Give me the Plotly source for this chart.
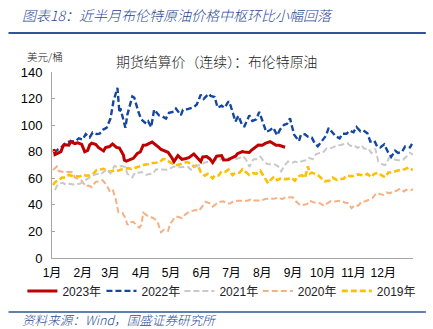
import pandas as pd
import plotly.graph_objects as go

# Brent front-month settlement (USD/bbl), by month-day of each year
dates_2023 = ["01-03", "01-04", "01-06", "01-10", "01-12", "01-13", "01-18", "01-20", "01-24", "01-27",
              "01-31", "02-03", "02-06", "02-08", "02-10", "02-14", "02-17", "02-22", "02-24", "02-28",
              "03-03", "03-07", "03-10", "03-14", "03-15", "03-17", "03-20", "03-24", "03-28", "03-31",
              "04-03", "04-06", "04-12", "04-14", "04-19", "04-21", "04-25", "04-28", "05-02", "05-04",
              "05-08", "05-12", "05-16", "05-19", "05-24", "05-26", "05-31", "06-02", "06-06", "06-09",
              "06-12", "06-16", "06-21", "06-23", "06-28", "06-30", "07-05", "07-07", "07-12", "07-14",
              "07-19", "07-21", "07-25", "07-28", "08-01", "08-04", "08-09", "08-11", "08-15", "08-18",
              "08-22", "08-24"]
brent_2023 = [82.10, 77.84, 78.57, 80.10, 84.03, 85.28, 84.98, 87.63, 86.13, 86.66,
              85.46, 79.94, 80.99, 85.09, 86.39, 85.58, 83.00, 80.60, 83.16, 83.89,
              85.83, 83.29, 82.78, 77.45, 73.69, 72.97, 73.79, 74.99, 78.65, 79.77,
              84.93, 85.12, 87.33, 86.31, 83.12, 81.66, 80.77, 79.54, 75.32, 72.50,
              77.01, 74.17, 74.91, 75.58, 78.36, 76.95, 72.66, 76.13, 76.29, 74.79,
              71.84, 76.61, 77.12, 73.85, 74.03, 74.90, 76.65, 78.47, 80.11, 79.87,
              79.46, 81.07, 83.64, 84.99, 84.91, 86.24, 87.55, 86.81, 84.89, 84.80,
              84.03, 83.36]

dates_2022 = ["01-03", "01-05", "01-07", "01-11", "01-14", "01-18", "01-21", "01-25", "01-28", "02-01",
              "02-04", "02-08", "02-11", "02-15", "02-18", "02-22", "02-25", "03-01", "03-04", "03-08",
              "03-10", "03-11", "03-16", "03-18", "03-23", "03-25", "03-29", "04-01", "04-06", "04-08",
              "04-11", "04-14", "04-19", "04-22", "04-26", "04-29", "05-04", "05-06", "05-11", "05-13",
              "05-17", "05-20", "05-24", "05-27", "05-31", "06-03", "06-08", "06-10", "06-14", "06-17",
              "06-21", "06-24", "06-28", "06-30", "07-05", "07-08", "07-12", "07-14", "07-19", "07-22",
              "07-26", "07-29", "08-02", "08-05", "08-09", "08-12", "08-16", "08-19", "08-23", "08-26",
              "08-29", "09-02", "09-07", "09-09", "09-13", "09-16", "09-20", "09-23", "09-26", "09-30",
              "10-04", "10-07", "10-11", "10-14", "10-18", "10-21", "10-25", "10-28", "11-01", "11-04",
              "11-08", "11-11", "11-15", "11-18", "11-22", "11-25", "11-28", "12-02", "12-06", "12-09",
              "12-13", "12-16", "12-20", "12-23", "12-28", "12-30"]
brent_2022 = [78.98, 80.80, 81.75, 83.72, 86.06, 87.51, 87.89, 88.20, 90.03, 89.16,
              93.27, 90.78, 94.44, 93.28, 93.54, 96.84, 97.93, 104.97, 118.11, 127.98,
              109.33, 112.67, 98.02, 107.93, 121.60, 120.65, 110.23, 104.39, 101.07, 102.78,
              98.48, 111.70, 107.25, 106.65, 104.99, 109.34, 110.14, 112.39, 107.51, 111.55,
              111.93, 112.55, 113.56, 115.56, 122.84, 119.72, 123.58, 122.01, 121.17, 113.12,
              114.65, 113.12, 117.98, 114.81, 102.77, 107.02, 99.49, 99.10, 107.35, 103.20,
              104.40, 110.01, 100.54, 94.92, 96.31, 98.15, 92.34, 96.72, 100.22, 100.99,
              105.09, 93.02, 88.00, 92.84, 93.17, 91.35, 90.62, 86.15, 84.06, 87.96,
              91.80, 97.92, 94.29, 91.63, 90.03, 93.50, 93.52, 95.77, 94.65, 98.57,
              95.36, 95.99, 93.86, 87.62, 88.36, 83.63, 83.19, 85.57, 79.35, 76.10,
              80.68, 79.04, 79.99, 83.92, 83.26, 85.91]

dates_2021 = ["01-04", "01-06", "01-08", "01-12", "01-15", "01-19", "01-22", "01-26", "01-29", "02-02",
              "02-05", "02-09", "02-12", "02-16", "02-19", "02-23", "02-25", "03-01", "03-05", "03-08",
              "03-12", "03-16", "03-18", "03-23", "03-26", "03-30", "04-01", "04-06", "04-09", "04-13",
              "04-16", "04-20", "04-23", "04-27", "04-30", "05-04", "05-07", "05-11", "05-14", "05-18",
              "05-21", "05-25", "05-28", "06-01", "06-04", "06-08", "06-11", "06-15", "06-18", "06-22",
              "06-25", "06-29", "07-02", "07-06", "07-09", "07-13", "07-16", "07-19", "07-23", "07-27",
              "07-30", "08-03", "08-06", "08-10", "08-13", "08-17", "08-20", "08-24", "08-27", "08-31",
              "09-03", "09-07", "09-10", "09-14", "09-17", "09-21", "09-24", "09-28", "10-01", "10-05",
              "10-08", "10-12", "10-15", "10-19", "10-22", "10-26", "10-29", "11-02", "11-05", "11-09",
              "11-12", "11-16", "11-19", "11-23", "11-26", "11-30", "12-03", "12-07", "12-10", "12-14",
              "12-17", "12-21", "12-24", "12-28", "12-31"]
brent_2021 = [51.09, 54.30, 55.99, 56.58, 55.10, 55.90, 55.41, 55.91, 55.88, 57.46,
              59.34, 61.09, 62.43, 63.35, 62.91, 65.37, 66.88, 63.69, 69.36, 68.24,
              69.22, 68.39, 63.28, 60.79, 64.57, 64.14, 64.86, 62.74, 62.95, 63.67,
              66.77, 66.57, 66.11, 66.42, 67.25, 68.88, 68.28, 68.55, 68.71, 68.71,
              66.44, 68.65, 69.63, 70.25, 71.89, 72.22, 72.69, 73.99, 73.51, 74.81,
              76.18, 74.76, 76.17, 74.53, 75.55, 76.49, 73.59, 68.62, 74.10, 74.48,
              76.33, 72.41, 70.70, 70.63, 70.59, 69.03, 65.18, 70.05, 72.70, 71.63,
              72.61, 71.69, 72.92, 73.60, 75.34, 74.36, 78.09, 79.09, 79.28, 82.56,
              82.39, 83.42, 84.86, 85.08, 85.53, 86.40, 84.38, 84.72, 82.74, 84.78,
              82.17, 82.43, 78.89, 82.31, 72.72, 70.57, 69.88, 75.44, 75.15, 73.70,
              73.52, 73.98, 76.14, 79.23, 77.78]

dates_2020 = ["01-02", "01-06", "01-08", "01-10", "01-14", "01-17", "01-21", "01-24", "01-28", "01-31",
              "02-04", "02-07", "02-10", "02-14", "02-18", "02-21", "02-25", "02-28", "03-03", "03-06",
              "03-09", "03-13", "03-16", "03-18", "03-20", "03-24", "03-27", "03-30", "04-01", "04-03",
              "04-07", "04-09", "04-14", "04-17", "04-21", "04-24", "04-28", "04-30", "05-05", "05-08",
              "05-12", "05-15", "05-19", "05-22", "05-26", "05-29", "06-02", "06-05", "06-09", "06-12",
              "06-16", "06-19", "06-23", "06-26", "06-30", "07-03", "07-07", "07-10", "07-14", "07-17",
              "07-21", "07-24", "07-28", "07-31", "08-04", "08-07", "08-11", "08-14", "08-18", "08-21",
              "08-25", "08-28", "09-01", "09-04", "09-08", "09-11", "09-15", "09-18", "09-22", "09-25",
              "09-29", "10-02", "10-06", "10-09", "10-13", "10-16", "10-20", "10-23", "10-27", "10-30",
              "11-02", "11-06", "11-09", "11-13", "11-17", "11-20", "11-24", "11-27", "12-01", "12-04",
              "12-08", "12-11", "12-15", "12-18", "12-22", "12-24", "12-29", "12-31"]
brent_2020 = [66.25, 68.91, 65.44, 64.98, 64.49, 64.85, 64.59, 60.69, 59.51, 58.16,
              53.96, 54.47, 53.27, 57.32, 57.75, 58.50, 54.95, 50.52, 51.86, 45.27,
              34.36, 33.85, 30.05, 24.88, 26.98, 27.15, 24.93, 22.76, 24.74, 34.11,
              31.87, 31.48, 29.60, 28.08, 19.33, 21.44, 20.46, 25.27, 30.97, 30.97,
              29.98, 32.50, 34.65, 35.13, 36.17, 35.33, 39.57, 42.30, 41.18, 38.73,
              40.96, 42.19, 42.63, 41.02, 41.15, 42.80, 43.08, 43.24, 42.90, 43.14,
              44.32, 43.34, 43.22, 43.30, 44.43, 44.40, 44.50, 44.80, 45.46, 44.35,
              45.86, 45.81, 45.58, 42.66, 39.78, 39.83, 40.53, 43.15, 41.72, 41.92,
              40.91, 39.27, 41.29, 42.85, 42.45, 42.93, 43.16, 41.77, 41.20, 37.46,
              39.71, 39.45, 42.40, 42.78, 43.75, 44.96, 48.86, 48.18, 47.42, 49.25,
              48.84, 49.97, 50.76, 52.26, 50.08, 51.29, 51.09, 51.80]

dates_2019 = ["01-02", "01-04", "01-08", "01-11", "01-15", "01-18", "01-22", "01-25", "01-29", "02-01",
              "02-05", "02-08", "02-12", "02-15", "02-19", "02-22", "02-26", "03-01", "03-05", "03-08",
              "03-12", "03-15", "03-19", "03-22", "03-26", "03-29", "04-02", "04-05", "04-09", "04-12",
              "04-16", "04-19", "04-23", "04-25", "04-30", "05-03", "05-07", "05-10", "05-14", "05-17",
              "05-21", "05-24", "05-28", "05-31", "06-04", "06-07", "06-12", "06-14", "06-18", "06-21",
              "06-25", "06-28", "07-02", "07-05", "07-09", "07-12", "07-16", "07-19", "07-23", "07-26",
              "07-30", "08-02", "08-07", "08-09", "08-13", "08-16", "08-20", "08-23", "08-27", "08-30",
              "09-03", "09-06", "09-10", "09-13", "09-16", "09-18", "09-20", "09-24", "09-27", "10-01",
              "10-03", "10-08", "10-11", "10-15", "10-18", "10-22", "10-25", "10-29", "11-01", "11-05",
              "11-08", "11-12", "11-15", "11-19", "11-22", "11-26", "11-29", "12-03", "12-06", "12-10",
              "12-13", "12-17", "12-20", "12-24", "12-27", "12-31"]
brent_2019 = [54.91, 57.06, 58.72, 60.48, 60.64, 62.70, 61.50, 61.64, 61.32, 62.75,
              61.98, 62.10, 63.69, 66.25, 66.45, 67.12, 65.21, 65.07, 65.86, 65.74,
              66.67, 67.16, 67.61, 67.03, 67.97, 68.39, 69.37, 70.34, 70.61, 71.55,
              71.72, 71.97, 74.51, 74.35, 72.06, 70.85, 69.88, 70.62, 71.24, 72.21,
              71.18, 68.69, 70.11, 64.49, 61.97, 63.29, 59.97, 62.01, 62.14, 65.20,
              65.05, 66.55, 62.40, 64.23, 64.16, 66.72, 64.35, 62.47, 63.83, 63.46,
              65.72, 61.89, 56.23, 58.53, 61.30, 58.64, 60.03, 59.34, 59.51, 60.43,
              58.26, 61.54, 62.38, 60.22, 69.02, 63.60, 64.28, 63.10, 61.91, 58.89,
              57.71, 58.24, 60.51, 58.74, 59.42, 59.70, 62.02, 61.59, 61.69, 62.96,
              62.51, 62.06, 63.30, 60.91, 63.39, 64.27, 62.43, 60.82, 64.39, 64.34,
              65.22, 66.10, 66.14, 67.20, 68.16, 66.00]

month_labels = ["1月", "2月", "3月", "4月", "5月", "6月", "7月", "8月", "9月", "10月", "11月", "12月"]

BASE_YEAR = "2023"  # every year is laid on a common Jan–Dec axis


def on_axis(md_list):
    return pd.to_datetime([f"{BASE_YEAR}-{md}" for md in md_list])


LBL = "Liberation Sans, Arial, Noto Sans CJK SC, sans-serif"
CJK = "Noto Sans CJK SC, sans-serif"
NAVY = "#2A4A95"

series = [
    # (name, dates, values, colour, width, dash, legend id, legend x)
    ("2019年", dates_2019, brent_2019, "#FFC000", 2.6, "6px,3px", "legend5", 0.789),
    ("2020年", dates_2020, brent_2020, "#F4B183", 2.0, "6px,3px", "legend4", 0.570),
    ("2021年", dates_2021, brent_2021, "#C9C9C9", 2.0, "6px,3px", "legend3", 0.353),
    ("2022年", dates_2022, brent_2022, "#1447A0", 2.4, "6px,3px", "legend2", 0.137),
    ("2023年", dates_2023, brent_2023, "#C00000", 3.0, "solid", "legend", -0.082),
]

fig = go.Figure()
legend_layout = {}
for name, d, v, col, w, dash, lg, lx in series:
    fig.add_trace(go.Scatter(
        x=on_axis(d), y=v, name=name, mode="lines",
        line=dict(color=col, width=w, dash=dash),
        legend=lg, showlegend=True,
    ))
    legend_layout[lg] = dict(
        orientation="h", x=lx, xanchor="left", y=-0.177, yanchor="middle",
        font=dict(family=LBL, size=12, color="#222222"),
        itemwidth=30, bgcolor="rgba(0,0,0,0)",
    )

month_starts = pd.date_range(f"{BASE_YEAR}-01-01", periods=12, freq="MS")

fig.update_layout(
    width=433, height=329,
    margin=dict(l=52, r=16, t=72, b=71),
    paper_bgcolor="white", plot_bgcolor="white",
    font=dict(family=LBL, size=12, color="#000000"),
    showlegend=True,
    **legend_layout,
    xaxis=dict(
        range=[f"{BASE_YEAR}-01-01", f"{BASE_YEAR}-12-31"],
        tickvals=month_starts, ticktext=month_labels,
        showgrid=False, zeroline=False,
        showline=True, linecolor="#A6A6A6", linewidth=1,
        ticks="", ticklabelstandoff=4,
        tickfont=dict(family=LBL, size=12, color="#000000"),
    ),
    yaxis=dict(
        range=[0, 140], dtick=20,
        showgrid=False, zeroline=False,
        showline=True, linecolor="#A6A6A6", linewidth=1,
        ticks="inside", ticklen=3, tickcolor="#A6A6A6",
        ticklabelstandoff=6,
        tickfont=dict(family=LBL, size=13, color="#000000"),
    ),
    annotations=[
        dict(text="图表18：近半月布伦特原油价格中枢环比小幅回落",
             xref="paper", yref="paper", x=-0.0877, y=1.306,
             xanchor="left", yanchor="middle", showarrow=False,
             font=dict(family=CJK, size=14, color=NAVY, style="italic", weight=300)),
        dict(text="期货结算价（连续）：布伦特原油",
             xref="paper", yref="paper", x=0.4548, y=1.059,
             xanchor="center", yanchor="middle", showarrow=False,
             font=dict(family=CJK, size=13.9, color="#222222", weight=300)),
        dict(text="美元/桶",
             xref="paper", yref="paper", x=-0.019, y=1.081,
             xanchor="center", yanchor="middle", showarrow=False,
             font=dict(family=CJK, size=10.5, color="#222222", weight=300)),
        dict(text="资料来源：Wind，国盛证券研究所",
             xref="paper", yref="paper", x=-0.0877, y=-0.333,
             xanchor="left", yanchor="middle", showarrow=False,
             font=dict(family=CJK, size=12.6, color=NAVY, style="italic", weight=300)),
    ],
    shapes=[
        dict(type="line", xref="paper", yref="paper",
             x0=-0.1205, x1=1.0356, y0=1.2097, y1=1.2097,
             line=dict(color="#2F5597", width=2)),
        dict(type="line", xref="paper", yref="paper",
             x0=-0.1205, x1=1.0356, y0=-0.2903, y1=-0.2903,
             line=dict(color="#2F5597", width=1.5)),
    ],
)

fig.write_html("out.html")
